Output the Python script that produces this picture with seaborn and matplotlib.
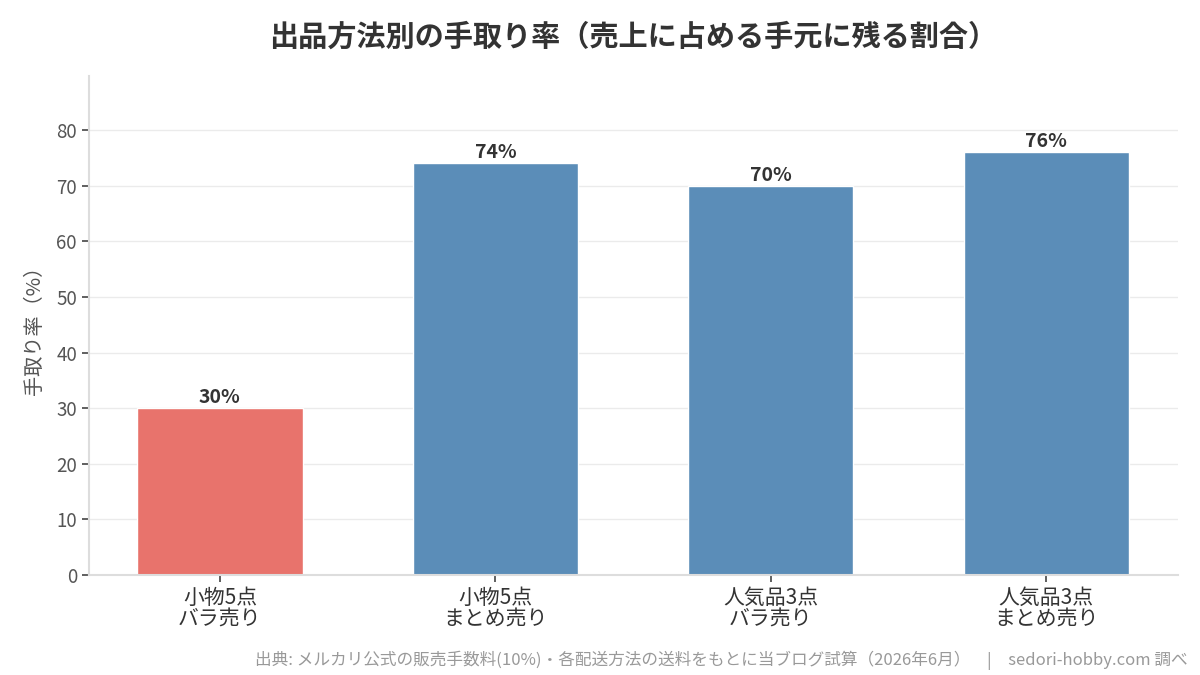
import matplotlib
matplotlib.use("Agg")
import matplotlib.pyplot as plt
import seaborn as sns
import pandas as pd

# --- データ ---
categories = ["小物5点\nバラ売り", "小物5点\nまとめ売り", "人気品3点\nバラ売り", "人気品3点\nまとめ売り"]
take_rates = [30, 74, 70, 76]
bar_colors = ["#E8736C", "#5B8DB8", "#5B8DB8", "#5B8DB8"]

title = "出品方法別の手取り率（売上に占める手元に残る割合）"
ylabel = "手取り率（%）"
source = "出典: メルカリ公式の販売手数料(10%)・各配送方法の送料をもとに当ブログ試算（2026年6月）　|　sedori-hobby.com 調べ"

sns.set_theme(style="white")
plt.rcParams['font.family'] = ['Noto Sans CJK JP', 'DejaVu Sans']

df = pd.DataFrame({"cat": categories, "rate": take_rates})

fig = plt.figure(figsize=(12, 6.75), dpi=100)
ax = fig.add_axes([0.074, 0.148, 0.908, 0.74])

sns.barplot(data=df, x="cat", y="rate", hue="cat", palette=bar_colors,
            width=0.6, legend=False, ax=ax, saturation=1)

for p, v in zip(ax.patches, take_rates):
    ax.text(p.get_x() + p.get_width() / 2, v + 0.2, f"{v}%", ha="center", va="bottom",
            fontsize=14, fontweight="bold", color="#333333")

ax.set_ylim(0, 89.8)
ax.set_xlim(-0.476, 3.48)
ax.set_yticks(range(0, 81, 10))
ax.yaxis.grid(True, color="#EBEBEB", linewidth=1)
ax.set_axisbelow(True)
ax.set_xlabel("")
ax.set_ylabel(ylabel, fontsize=14.5, color="#555555", labelpad=8)
ax.tick_params(axis="both", colors="#444444", length=5, width=1.2,
               left=True, bottom=True)
ax.tick_params(axis="y", labelsize=13.5, labelcolor="#555555")
ax.tick_params(axis="x", labelsize=15, labelcolor="#333333")
for lbl in ax.get_xticklabels():
    lbl.set_linespacing(1.0)
for s in ["top", "right"]:
    ax.spines[s].set_visible(False)
for s in ["left", "bottom"]:
    ax.spines[s].set_color("#DDDDDD")
    ax.spines[s].set_linewidth(1.5)

# タイトルは軸の中央に合わせる
fig.text(0.528, 0.945, title, ha="center", va="center", fontsize=21,
         fontweight="bold", color="#333333")
fig.text(0.99, 0.022, source, ha="right", va="center", fontsize=12, color="#999999")

fig.savefig("out.png", dpi=100)
